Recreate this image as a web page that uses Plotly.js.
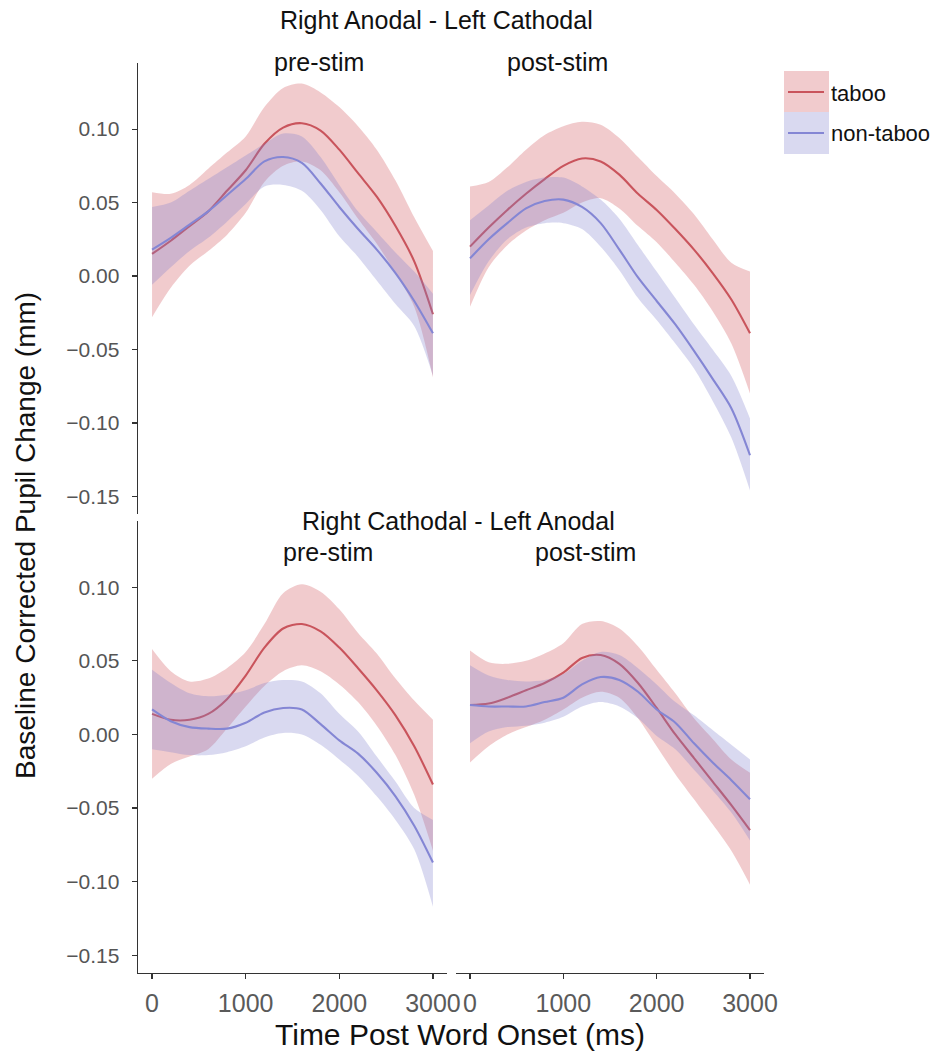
<!DOCTYPE html>
<html>
<head>
<meta charset="utf-8">
<script src="https://cdn.plot.ly/plotly-3.0.1.min.js"></script>
<style>html,body{margin:0;padding:0;background:#fff;}#chart{width:936px;height:1055px;}</style>
</head>
<body>
<div id="chart"></div>
<script>
// ---- data (ms after word onset; pupil change in mm) ----
const time = [0,200,400,600,800,1000,1200,1400,1600,1800,2000,2200,2400,2600,2800,3000];
const xTicks = [0,1000,2000,3000];
const yTicks = [-0.15,-0.10,-0.05,0.00,0.05,0.10];
const groups = ["taboo","non-taboo"];
const blockTitles = ["Right Anodal - Left Cathodal","Right Cathodal - Left Anodal"];
const phaseTitles = ["pre-stim","post-stim"];

// Right Anodal - Left Cathodal, pre-stim
const raPreTabooMean = [0.015,0.024,0.034,0.044,0.058,0.072,0.090,0.101,0.104,0.099,0.086,0.070,0.054,0.034,0.010,-0.026];
const raPreTabooHi   = [0.057,0.056,0.062,0.073,0.084,0.095,0.115,0.128,0.131,0.125,0.115,0.102,0.086,0.065,0.040,0.017];
const raPreTabooLo   = [-0.028,-0.008,0.007,0.017,0.028,0.043,0.064,0.075,0.078,0.072,0.057,0.039,0.022,0.002,-0.021,-0.069];
const raPreNonMean   = [0.018,0.026,0.035,0.044,0.055,0.066,0.078,0.081,0.077,0.063,0.047,0.032,0.018,0.002,-0.017,-0.039];
const raPreNonHi     = [0.047,0.050,0.058,0.066,0.074,0.082,0.090,0.097,0.095,0.081,0.062,0.044,0.030,0.016,0.003,-0.012];
const raPreNonLo     = [-0.006,0.006,0.017,0.026,0.037,0.049,0.061,0.062,0.058,0.045,0.027,0.013,-0.003,-0.019,-0.034,-0.068];

// Right Anodal - Left Cathodal, post-stim
const raPostTabooMean = [0.020,0.033,0.045,0.056,0.066,0.075,0.080,0.078,0.069,0.056,0.045,0.032,0.018,0.002,-0.016,-0.039];
const raPostTabooHi   = [0.061,0.064,0.074,0.086,0.096,0.102,0.105,0.103,0.094,0.081,0.068,0.056,0.042,0.025,0.009,0.003];
const raPostTabooLo   = [-0.021,0.006,0.021,0.031,0.038,0.043,0.050,0.053,0.046,0.034,0.023,0.009,-0.006,-0.024,-0.046,-0.080];
const raPostNonMean   = [0.012,0.025,0.036,0.046,0.051,0.052,0.047,0.036,0.018,-0.001,-0.017,-0.033,-0.051,-0.070,-0.090,-0.122];
const raPostNonHi     = [0.038,0.048,0.058,0.064,0.067,0.067,0.061,0.052,0.039,0.021,0.003,-0.015,-0.033,-0.050,-0.068,-0.097];
const raPostNonLo     = [-0.013,0.010,0.025,0.033,0.036,0.036,0.032,0.020,0.004,-0.015,-0.030,-0.046,-0.063,-0.085,-0.110,-0.146];

// Right Cathodal - Left Anodal, pre-stim
const rcPreTabooMean = [0.014,0.010,0.010,0.014,0.024,0.040,0.059,0.072,0.075,0.070,0.059,0.045,0.030,0.013,-0.008,-0.034];
const rcPreTabooHi   = [0.058,0.043,0.036,0.038,0.045,0.056,0.075,0.096,0.102,0.097,0.085,0.069,0.055,0.038,0.023,0.010];
const rcPreTabooLo   = [-0.030,-0.020,-0.015,-0.010,0.004,0.019,0.033,0.043,0.047,0.043,0.034,0.022,0.006,-0.014,-0.041,-0.079];
const rcPreNonMean   = [0.017,0.009,0.005,0.004,0.004,0.008,0.015,0.018,0.017,0.007,-0.004,-0.013,-0.026,-0.042,-0.062,-0.087];
const rcPreNonHi     = [0.044,0.035,0.028,0.026,0.027,0.030,0.035,0.037,0.036,0.028,0.014,0.002,-0.015,-0.032,-0.050,-0.058];
const rcPreNonLo     = [-0.010,-0.012,-0.014,-0.014,-0.012,-0.008,-0.002,0.001,0.000,-0.007,-0.017,-0.028,-0.042,-0.058,-0.078,-0.117];

// Right Cathodal - Left Anodal, post-stim
const rcPostTabooMean = [0.020,0.021,0.025,0.030,0.035,0.042,0.052,0.054,0.048,0.035,0.018,0.000,-0.016,-0.032,-0.048,-0.065];
const rcPostTabooHi   = [0.057,0.049,0.048,0.050,0.055,0.062,0.075,0.077,0.072,0.060,0.044,0.028,0.011,-0.003,-0.017,-0.026];
const rcPostTabooLo   = [-0.019,-0.008,0.000,0.005,0.010,0.017,0.025,0.029,0.025,0.011,-0.008,-0.027,-0.044,-0.061,-0.079,-0.102];
const rcPostNonMean   = [0.020,0.019,0.019,0.019,0.022,0.025,0.034,0.039,0.037,0.029,0.017,0.008,-0.006,-0.019,-0.031,-0.044];
const rcPostNonHi     = [0.047,0.040,0.037,0.036,0.037,0.041,0.050,0.056,0.054,0.045,0.034,0.022,0.013,0.003,-0.007,-0.017];
const rcPostNonLo     = [-0.006,0.002,0.005,0.006,0.008,0.012,0.019,0.022,0.019,0.011,-0.001,-0.010,-0.024,-0.038,-0.053,-0.072];

// ---- styling ----
const W = 936, H = 1055;
const lineCol = {"taboo":"rgb(201,84,92)","non-taboo":"rgb(132,134,212)"};
const fillCol = {"taboo":"rgba(212,92,98,0.32)","non-taboo":"rgba(128,128,206,0.30)"};
const SMOOTH = 0.85;

const panels = [
  {xa:"x",  ya:"y",  sets:[[raPreTabooMean,raPreTabooHi,raPreTabooLo],[raPreNonMean,raPreNonHi,raPreNonLo]]},
  {xa:"x2", ya:"y2", sets:[[raPostTabooMean,raPostTabooHi,raPostTabooLo],[raPostNonMean,raPostNonHi,raPostNonLo]]},
  {xa:"x3", ya:"y3", sets:[[rcPreTabooMean,rcPreTabooHi,rcPreTabooLo],[rcPreNonMean,rcPreNonHi,rcPreNonLo]]},
  {xa:"x4", ya:"y4", sets:[[rcPostTabooMean,rcPostTabooHi,rcPostTabooLo],[rcPostNonMean,rcPostNonHi,rcPostNonLo]]}
];

const traces = [];
panels.forEach(p => {
  p.sets.forEach((s, gi) => {
    const g = groups[gi];
    traces.push({x: time, y: s[1], xaxis: p.xa, yaxis: p.ya, mode: "lines",
      line: {width: 0, shape: "spline", smoothing: SMOOTH}, hoverinfo: "skip", showlegend: false});
    traces.push({x: time, y: s[2], xaxis: p.xa, yaxis: p.ya, mode: "lines", fill: "tonexty",
      fillcolor: fillCol[g], line: {width: 0, shape: "spline", smoothing: SMOOTH}, hoverinfo: "skip", showlegend: false});
    traces.push({x: time, y: s[0], xaxis: p.xa, yaxis: p.ya, mode: "lines", name: g,
      line: {width: 2.1, color: lineCol[g], shape: "spline", smoothing: SMOOTH}, showlegend: false});
  });
});

const px = v => v / W;
const py = v => 1 - v / H;
const xRange = [-150, 3150];
const yRange = [-0.162, 0.145];
const domL = [px(138), px(447)], domR = [px(456), px(764)];
const domT = [py(514), py(63)], domB = [py(973), py(521)];

const shownX = {range: xRange, showgrid: false, zeroline: false, showline: true, linecolor: "#333", linewidth: 1.4,
  ticks: "outside", ticklen: 5, tickwidth: 1.2, tickcolor: "#333", tickvals: xTicks, ticklabelstandoff: 3,
  tickfont: {size: 25, color: "#5a5a5a"}};
const hiddenX = {range: xRange, showgrid: false, zeroline: false, showline: false, ticks: "", showticklabels: false};
const shownY = {range: yRange, showgrid: false, zeroline: false, showline: true, linecolor: "#333", linewidth: 1.4,
  ticks: "outside", ticklen: 5, tickwidth: 1.2, tickcolor: "#333", tickvals: yTicks, tickformat: ".2f", ticklabelstandoff: 8,
  tickfont: {size: 21, color: "#555"}};
const hiddenY = {range: yRange, showgrid: false, zeroline: false, showline: false, ticks: "", showticklabels: false};

const ann = (text, x, y, size, extra) => Object.assign({text, x: px(x), y: py(y), xref: "paper", yref: "paper",
  showarrow: false, font: {size, color: "#111"}, xanchor: "center", yanchor: "middle"}, extra || {});

const annotations = [
  ann(blockTitles[0], 436, 20, 25),
  ann(phaseTitles[0], 319, 62, 25),
  ann(phaseTitles[1], 557, 62, 25),
  ann(blockTitles[1], 458, 521, 25),
  ann(phaseTitles[0], 328, 552, 25),
  ann(phaseTitles[1], 585, 552, 25),
  ann("Baseline Corrected Pupil Change (mm)", 25, 536, 28, {textangle: -90}),
  ann("Time Post Word Onset (ms)", 460, 1034, 30),
  ann(groups[0], 829, 93, 22, {xanchor: "left"}),
  ann(groups[1], 829, 134, 22, {xanchor: "left"})
];

const shapes = [
  {type: "rect", xref: "paper", yref: "paper", x0: px(784), x1: px(829), y0: py(112), y1: py(71), fillcolor: fillCol["taboo"], line: {width: 0}},
  {type: "rect", xref: "paper", yref: "paper", x0: px(784), x1: px(829), y0: py(154), y1: py(112), fillcolor: fillCol["non-taboo"], line: {width: 0}},
  {type: "line", xref: "paper", yref: "paper", x0: px(788), x1: px(824), y0: py(92), y1: py(92), line: {width: 2, color: lineCol["taboo"]}},
  {type: "line", xref: "paper", yref: "paper", x0: px(788), x1: px(824), y0: py(133), y1: py(133), line: {width: 2, color: lineCol["non-taboo"]}}
];

const layout = {
  width: W, height: H, margin: {l: 0, r: 0, t: 0, b: 0},
  paper_bgcolor: "#fff", plot_bgcolor: "rgba(0,0,0,0)", showlegend: false,
  font: {family: "Liberation Sans, Arial, Helvetica, sans-serif", color: "#111"},
  xaxis:  Object.assign({domain: domL, anchor: "y"}, hiddenX),
  xaxis2: Object.assign({domain: domR, anchor: "y2"}, hiddenX),
  xaxis3: Object.assign({domain: domL, anchor: "y3"}, shownX),
  xaxis4: Object.assign({domain: domR, anchor: "y4"}, shownX),
  yaxis:  Object.assign({domain: domT, anchor: "x"}, shownY),
  yaxis2: Object.assign({domain: domT, anchor: "x2"}, hiddenY),
  yaxis3: Object.assign({domain: domB, anchor: "x3"}, shownY),
  yaxis4: Object.assign({domain: domB, anchor: "x4"}, hiddenY),
  annotations, shapes
};

Plotly.newPlot("chart", traces, layout, {displayModeBar: false, staticPlot: true});
</script>
</body>
</html>
